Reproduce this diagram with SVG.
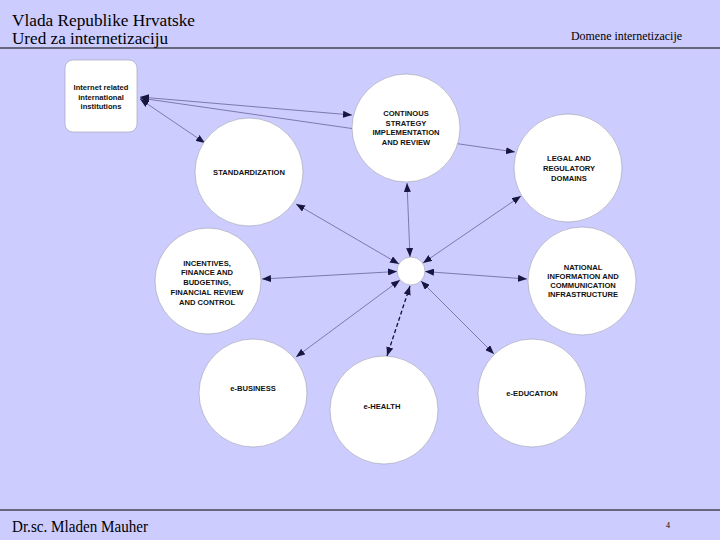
<svg xmlns="http://www.w3.org/2000/svg" width="720" height="540" viewBox="0 0 720 540">
<style>
.bg{fill:#CCCCFF}
.rule{stroke:#000;stroke-width:1.2}
.hdr{font-family:"Liberation Serif","Times New Roman",serif;fill:#000}
.node{fill:#fff;stroke:#9a9ab0;stroke-width:0.6}
.lbl{font-family:"Liberation Sans",Arial,sans-serif;font-weight:bold;font-size:7.6px;fill:#111;text-anchor:middle}
.edge{stroke:#5f5f95;stroke-width:0.75;fill:none;marker-start:url(#ah);marker-end:url(#ah)}
.dash{stroke:#101030;stroke-width:1.3;stroke-dasharray:4 2.5}
</style>
<defs>
<marker id="ah" markerUnits="userSpaceOnUse" markerWidth="9" markerHeight="7" refX="9" refY="3.5" orient="auto-start-reverse">
<path d="M0,0 L9,3.5 L0,7 Z" fill="#161640"/>
</marker>
</defs>
<rect class="bg" x="0" y="0" width="720" height="540"/>
<g id="header">
<text class="hdr" x="12" y="26" font-size="16" textLength="183" lengthAdjust="spacingAndGlyphs">Vlada Republike Hrvatske</text>
<text class="hdr" x="12" y="44" font-size="16" textLength="156" lengthAdjust="spacingAndGlyphs">Ured za internetizaciju</text>
<text class="hdr" x="571" y="40" font-size="12" textLength="111" lengthAdjust="spacingAndGlyphs">Domene internetizacije</text>
<line class="rule" x1="0" y1="48" x2="720" y2="48"/>
</g>
<g id="footer">
<line class="rule" x1="0" y1="510" x2="720" y2="510"/>
<text class="hdr" x="12" y="532" font-size="16" textLength="136" lengthAdjust="spacingAndGlyphs">Dr.sc. Mladen Mauher</text>
<text class="hdr" x="666" y="528" font-size="8">4</text>
</g>
<g id="connectors">
<line class="edge" x1="140" y1="97" x2="352" y2="115"/>
<line class="edge" x1="140" y1="98" x2="515" y2="152"/>
<line class="edge" x1="140" y1="99" x2="205" y2="143"/>
<line class="edge" x1="399" y1="264" x2="296" y2="204"/>
<line class="edge" x1="410" y1="257" x2="407" y2="183"/>
<line class="edge" x1="423" y1="263" x2="521" y2="196"/>
<line class="edge" x1="397" y1="271.5" x2="262" y2="279"/>
<line class="edge" x1="425" y1="271.5" x2="527" y2="279"/>
<line class="edge" x1="400" y1="280" x2="296" y2="357"/>
<line class="edge dash" x1="410" y1="286" x2="387" y2="356"/>
<line class="edge" x1="421" y1="281" x2="494" y2="354"/>
</g>
<g id="institutions">
<rect class="node" x="65" y="60" width="72" height="72" rx="8"/>
<text class="lbl" font-size="7.6" x="101" y="90">Internet  related</text>
<text class="lbl" font-size="7.6" x="101" y="99.5">international</text>
<text class="lbl" font-size="7.6" x="101" y="109">institutions</text>
</g>
<g id="continuous">
<circle class="node" cx="406" cy="128" r="54"/>
<text class="lbl" x="406" y="116">CONTINOUS</text>
<text class="lbl" x="406" y="125.5">STRATEGY</text>
<text class="lbl" x="406" y="135">IMPLEMENTATION</text>
<text class="lbl" x="406" y="144.5">AND REVIEW</text>
</g>
<g id="standardization">
<circle class="node" cx="249" cy="172" r="54"/>
<text class="lbl" x="249" y="175">STANDARDIZATION</text>
</g>
<g id="legal">
<circle class="node" cx="568" cy="168" r="54"/>
<text class="lbl" x="569" y="161">LEGAL AND</text>
<text class="lbl" x="569" y="171">REGULATORY</text>
<text class="lbl" x="569" y="181">DOMAINS</text>
</g>
<g id="incentives">
<circle class="node" cx="208" cy="281" r="53"/>
<text class="lbl" x="207" y="265.5">INCENTIVES,</text>
<text class="lbl" x="207" y="275">FINANCE AND</text>
<text class="lbl" x="207" y="285">BUDGETING,</text>
<text class="lbl" x="207" y="295">FINANCIAL REVIEW</text>
<text class="lbl" x="207" y="305">AND CONTROL</text>
</g>
<g id="hub">
<circle class="node" cx="411" cy="271" r="14"/>
</g>
<g id="national">
<circle class="node" cx="582" cy="281" r="54"/>
<text class="lbl" x="583" y="269.5">NATIONAL</text>
<text class="lbl" x="583" y="278.5">INFORMATION AND</text>
<text class="lbl" x="583" y="287.5">COMMUNICATION</text>
<text class="lbl" x="583" y="297">INFRASTRUCTURE</text>
</g>
<g id="ebusiness">
<circle class="node" cx="253" cy="393" r="54"/>
<text class="lbl" x="253" y="391">e-BUSINESS</text>
</g>
<g id="ehealth">
<circle class="node" cx="384" cy="410" r="54"/>
<text class="lbl" x="382" y="409">e-HEALTH</text>
</g>
<g id="eeducation">
<circle class="node" cx="532" cy="393" r="54"/>
<text class="lbl" x="532" y="396">e-EDUCATION</text>
</g>
</svg>
